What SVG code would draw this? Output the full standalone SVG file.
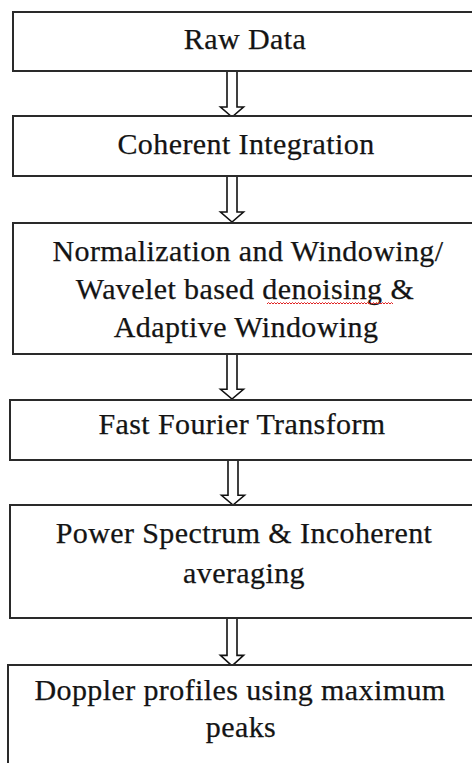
<svg xmlns="http://www.w3.org/2000/svg" width="472" height="763" viewBox="0 0 472 763">
  <style>
    .box { fill: #ffffff; stroke: #2a2a2a; stroke-width: 2; }
    .label { font-family: "Liberation Serif", "Times New Roman", serif; font-size: 30px; letter-spacing: 0.4px; fill: #141414; stroke: #141414; stroke-width: 0.25; text-anchor: middle; }
    .arrow { fill: #ffffff; stroke: #111111; stroke-width: 1.6; stroke-linejoin: miter; }
    .squiggle { fill: none; stroke: #e02020; stroke-width: 1; }
  </style>
  <defs>
    <!-- hollow block arrow pointing down, origin at the shaft's top-left corner -->
    <path id="blockArrow" d="M0 0 H10 V36 H16.5 L5 46 L-6.5 36 H0 Z"/>
  </defs>
  <rect width="472" height="763" fill="#ffffff"/>

  <g id="connectors">
    <use href="#blockArrow" class="arrow" x="227" y="71"/>
    <use href="#blockArrow" class="arrow" transform="translate(227 176)"/>
    <use href="#blockArrow" class="arrow" transform="translate(227 354) scale(1 0.98)"/>
    <use href="#blockArrow" class="arrow" transform="translate(228 460) scale(1 0.98)"/>
    <use href="#blockArrow" class="arrow" transform="translate(227 618) scale(1 1.04)"/>
  </g>

  <g id="raw-data">
    <rect class="box" x="13" y="12" width="470" height="59"/>
    <text class="label" x="245" y="49">Raw Data</text>
  </g>

  <g id="coherent-integration">
    <rect class="box" x="13" y="116" width="470" height="60"/>
    <text class="label" x="246" y="154">Coherent Integration</text>
  </g>

  <g id="normalization-windowing">
    <rect class="box" x="13" y="223" width="470" height="131"/>
    <text class="label" x="248" y="261">Normalization and Windowing/</text>
    <text class="label" x="245" y="299">Wavelet based denoising &amp;</text>
    <text class="label" x="246" y="337">Adaptive Windowing</text>
    <!-- spell-check underline under "denoising" -->
    <path class="squiggle" d="M267 304 l1.5 -1.5 l1.5 1.5 l1.5 -1.5 l1.5 1.5 l1.5 -1.5 l1.5 1.5 l1.5 -1.5 l1.5 1.5 l1.5 -1.5 l1.5 1.5 l1.5 -1.5 l1.5 1.5 l1.5 -1.5 l1.5 1.5 l1.5 -1.5 l1.5 1.5 l1.5 -1.5 l1.5 1.5 l1.5 -1.5 l1.5 1.5 l1.5 -1.5 l1.5 1.5 l1.5 -1.5 l1.5 1.5 l1.5 -1.5 l1.5 1.5 l1.5 -1.5 l1.5 1.5 l1.5 -1.5 l1.5 1.5 l1.5 -1.5 l1.5 1.5 l1.5 -1.5 l1.5 1.5 l1.5 -1.5 l1.5 1.5 l1.5 -1.5 l1.5 1.5 l1.5 -1.5 l1.5 1.5 l1.5 -1.5 l1.5 1.5 l1.5 -1.5 l1.5 1.5 l1.5 -1.5 l1.5 1.5 l1.5 -1.5 l1.5 1.5 l1.5 -1.5 l1.5 1.5 l1.5 -1.5 l1.5 1.5 l1.5 -1.5 l1.5 1.5 l1.5 -1.5 l1.5 1.5 l1.5 -1.5 l1.5 1.5 l1.5 -1.5 l1.5 1.5 l1.5 -1.5 l1.5 1.5 l1.5 -1.5 l1.5 1.5 l1.5 -1.5 l1.5 1.5 l1.5 -1.5 l1.5 1.5 l1.5 -1.5 l1.5 1.5 l1.5 -1.5 l1.5 1.5 l1.5 -1.5 l1.5 1.5 l1.5 -1.5 l1.5 1.5 l1.5 -1.5 l1.5 1.5 l1.5 -1.5 l1.5 1.5 l1.5 -1.5 l1.5 1.5 l1.5 -1.5 l1.5 1.5"/>
  </g>

  <g id="fast-fourier-transform">
    <rect class="box" x="10" y="400" width="470" height="60"/>
    <text class="label" x="242" y="434">Fast Fourier Transform</text>
  </g>

  <g id="power-spectrum">
    <rect class="box" x="10" y="505" width="470" height="113"/>
    <text class="label" x="244" y="543">Power Spectrum &amp; Incoherent</text>
    <text class="label" x="244" y="583">averaging</text>
  </g>

  <g id="doppler-profiles">
    <rect class="box" x="8" y="665" width="470" height="110"/>
    <text class="label" x="240" y="700">Doppler profiles using maximum</text>
    <text class="label" x="241" y="737">peaks</text>
  </g>
</svg>
